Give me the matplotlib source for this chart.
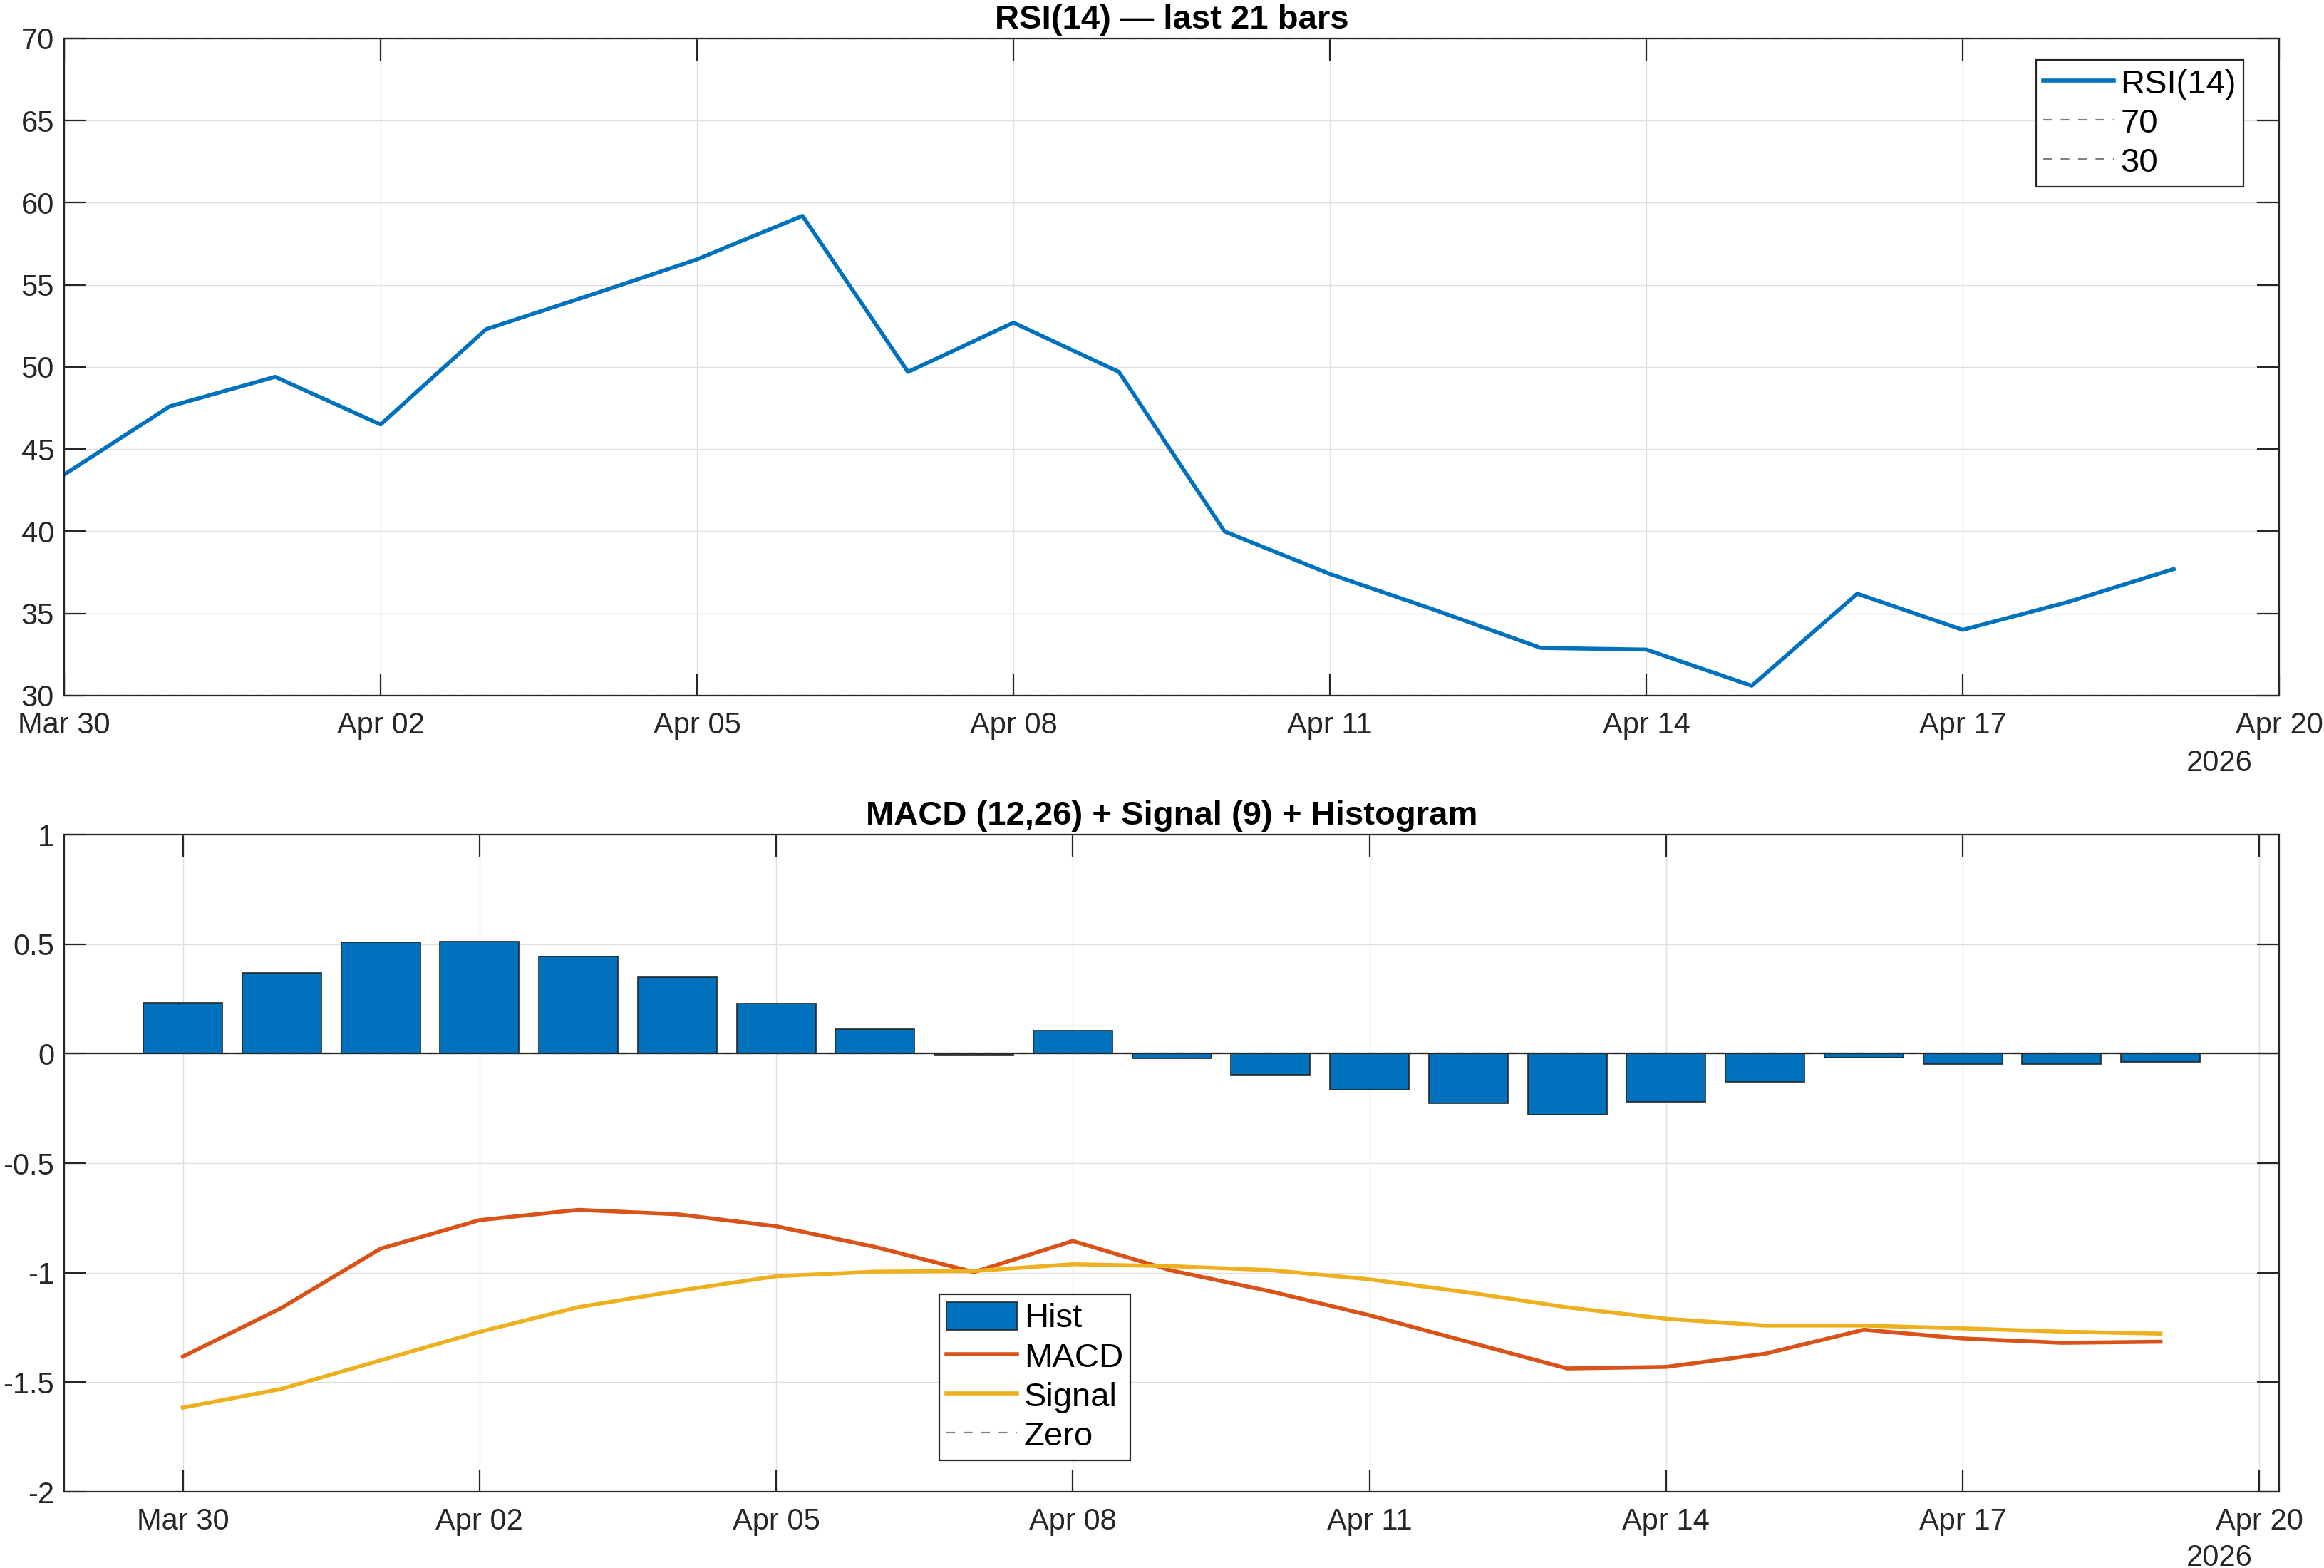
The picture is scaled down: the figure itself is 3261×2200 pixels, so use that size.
import numpy as np
import pandas as pd
import matplotlib
matplotlib.use('Agg')
import matplotlib.pyplot as plt
import matplotlib.dates as mdates

plt.rcParams['font.family'] = ['Liberation Sans', 'DejaVu Sans']

# data
dates = ['2026-03-30', '2026-03-31', '2026-04-01', '2026-04-02', '2026-04-03',
         '2026-04-04', '2026-04-05', '2026-04-06', '2026-04-07', '2026-04-08',
         '2026-04-09', '2026-04-10', '2026-04-11', '2026-04-12', '2026-04-13',
         '2026-04-14', '2026-04-15', '2026-04-16', '2026-04-17', '2026-04-18',
         '2026-04-19']
rsi = [43.45, 47.6, 49.4, 46.5, 52.3, 54.4, 56.55, 59.2, 49.7, 52.7, 49.7,
       40.0, 37.4, 35.2, 32.9, 32.8, 30.6, 36.2, 34.0, 35.7, 37.7]
macd = [-1.383, -1.16, -0.89, -0.76, -0.713, -0.733, -0.788, -0.882, -0.997,
        -0.855, -0.99, -1.085, -1.194, -1.316, -1.437, -1.43, -1.37, -1.26,
        -1.30, -1.32, -1.315]
signal = [-1.616, -1.53, -1.40, -1.27, -1.157, -1.083, -1.016, -0.995, -0.992,
          -0.961, -0.97, -0.988, -1.03, -1.09, -1.158, -1.21, -1.241, -1.241,
          -1.254, -1.269, -1.278]
hist = [0.233, 0.369, 0.510, 0.511, 0.444, 0.350, 0.228, 0.113, -0.005, 0.106,
        -0.02, -0.097, -0.164, -0.226, -0.279, -0.220, -0.129, -0.019, -0.046,
        -0.049, -0.037]
tick_dates = ['2026-03-30', '2026-04-02', '2026-04-05', '2026-04-08',
              '2026-04-11', '2026-04-14', '2026-04-17', '2026-04-20']

x = pd.to_datetime(dates)
ticks = pd.to_datetime(tick_dates)

blue = '#0072BD'
orange = '#D95319'
yellow = '#EDB120'
dark = '#262626'
gridc = '#dfdfdf'
dash = (5.5, 5.5)

fig = plt.figure(figsize=(16.31, 11), dpi=200)
ax1 = fig.add_axes([0.0276, 0.5564, 0.9528, 0.4191])
ax2 = fig.add_axes([0.0276, 0.0486, 0.9528, 0.4191])


def style(ax):
    ax.set_xticks(ticks)
    ax.xaxis.set_major_formatter(mdates.DateFormatter('%b %d'))
    ax.grid(True, color=gridc, linewidth=0.5)
    ax.set_axisbelow(True)
    ax.tick_params(direction='in', top=True, right=True, length=11, width=0.8,
                   color=dark, labelcolor=dark, labelsize=15)
    ax.tick_params(axis='x', pad=8)
    ax.tick_params(axis='y', pad=5)
    for s in ax.spines.values():
        s.set_color(dark)
        s.set_linewidth(0.8)


def legend(ax, handles, anchor, loc):
    leg = ax.legend(handles=handles, loc=loc, bbox_to_anchor=anchor,
                    borderaxespad=0, fontsize=17, handlelength=2.1,
                    handleheight=0.9, handletextpad=0.2, labelspacing=0.2,
                    borderpad=0.22, fancybox=False, framealpha=1,
                    edgecolor=dark)
    leg.get_frame().set_linewidth(0.8)
    return leg


# RSI panel
l_rsi, = ax1.plot(x, rsi, color=blue, linewidth=2.0, label='RSI(14)')
l70, = ax1.plot(x, [70] * len(x), color='#808080', linewidth=0.8,
                dashes=dash, label='70')
l30, = ax1.plot(x, [30] * len(x), color='#808080', linewidth=0.8,
                dashes=dash, label='30')
ax1.set_ylim(30, 70)
ax1.set_yticks(np.arange(30, 71, 5))
ax1.set_xlim(pd.Timestamp('2026-03-30'), pd.Timestamp('2026-04-20'))
style(ax1)
ax1.set_title('RSI(14) — last 21 bars', fontsize=17, fontweight='bold',
              color='black', pad=5)
legend(ax1, [l_rsi, l70, l30], (0.984, 0.967), 'upper right')
ax1.text(0.988, -0.103, '2026', transform=ax1.transAxes, ha='right',
         va='center', fontsize=15, color=dark)

# MACD panel
bars = ax2.bar(x, hist, width=0.8, color=blue, edgecolor=dark, linewidth=0.6,
               label='Hist', zorder=2)
l_macd, = ax2.plot(x, macd, color=orange, linewidth=2.0, label='MACD',
                   zorder=3)
l_sig, = ax2.plot(x, signal, color=yellow, linewidth=2.0, label='Signal',
                  zorder=3)
l_zero, = ax2.plot(x, [0] * len(x), color='#808080', linewidth=0.8,
                   dashes=dash, label='Zero', zorder=2)
ax2.axhline(0, color=dark, linewidth=0.8, zorder=2.5)
ax2.set_ylim(-2, 1)
ax2.set_yticks([-2, -1.5, -1, -0.5, 0, 0.5, 1])
ax2.set_yticklabels(['-2', '-1.5', '-1', '-0.5', '0', '0.5', '1'])
ax2.set_xlim(pd.Timestamp('2026-03-30') - pd.Timedelta(hours=28.8),
             pd.Timestamp('2026-04-20') + pd.Timedelta(hours=4.8))
style(ax2)
ax2.set_title('MACD (12,26) + Signal (9) + Histogram', fontsize=17,
              fontweight='bold', color='black', pad=5)
legend(ax2, [bars, l_macd, l_sig, l_zero], (0.395, 0.048), 'lower left')
ax2.text(0.988, -0.101, '2026', transform=ax2.transAxes, ha='right',
         va='center', fontsize=15, color=dark)

fig.savefig('out.png', dpi=200, facecolor='white')
